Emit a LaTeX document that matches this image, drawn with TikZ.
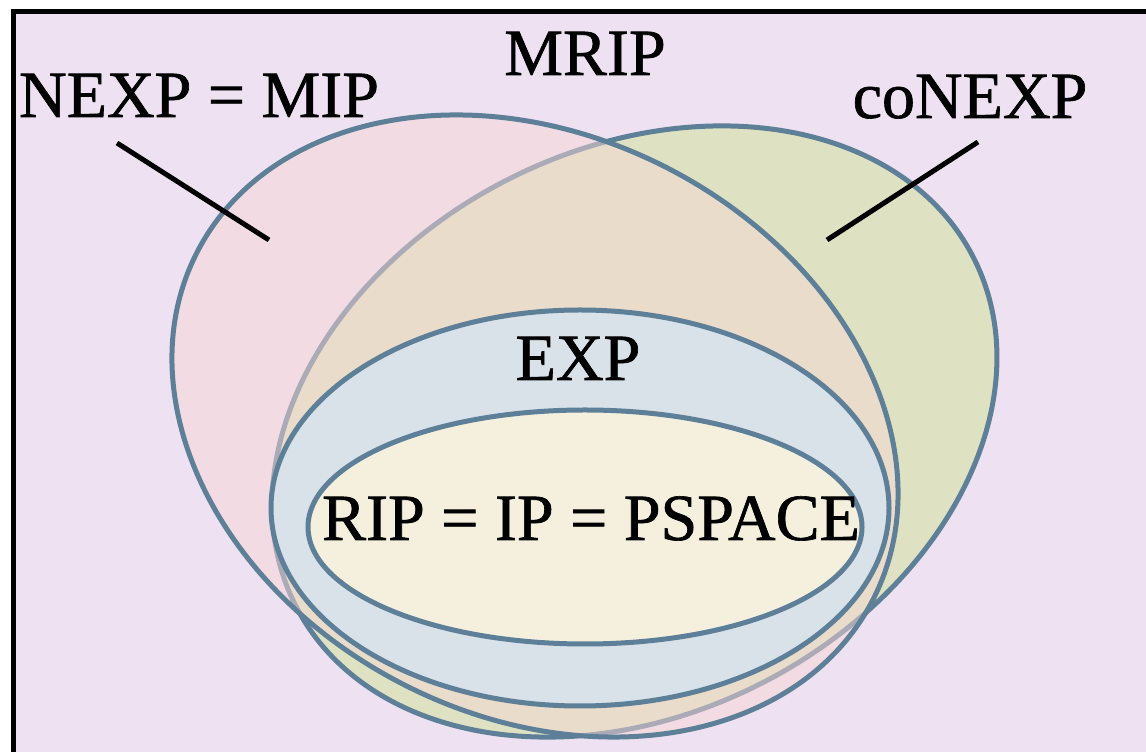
\documentclass[tikz,border=0pt]{standalone}
\usepackage{fontspec}
\setmainfont{Liberation Serif}
\newfontfamily\labelface{Liberation Serif}[FakeBold=1.0]
\definecolor{lav}{RGB}{237,225,242}
\definecolor{rim}{RGB}{94,127,152}
\definecolor{nexpfill}{RGB}{247,215,212}
\definecolor{conexpfill}{RGB}{222,226,194}
\definecolor{expfill}{RGB}{216,226,232}
\definecolor{ripfill}{RGB}{245,240,222}
\tikzset{
  classset/.style={draw=rim, line width=5pt},
  lbl/.style={inner sep=0pt, anchor=base, font=\labelface\fontsize{66}{72}\selectfont},
  pointer/.style={draw=black, line width=5pt},
}
\begin{document}
\begin{tikzpicture}[x=1pt,y=1pt]
  \useasboundingbox (0,0) rectangle (1146,752);
  \clip (0,0) rectangle (1146,752);
  \fill[white] (0,0) rectangle (1146,752);
  % framed background
  \draw[fill=lav, draw=black, line width=5pt] (13.5,-20) rectangle (1170,740.5);

  % coNEXP, then NEXP laid half-transparent over it
  \draw[classset, fill=conexpfill] (634.5,320.5) ellipse [x radius=381, y radius=282, rotate=27.35];
  \fill[nexpfill, fill opacity=0.5] (535,326) ellipse [x radius=380, y radius=290, rotate=-27.25];
  \draw[classset] (535,326) ellipse [x radius=380, y radius=290, rotate=-27.25];

  % EXP and the innermost class
  \draw[classset, fill=expfill] (580,244) ellipse [x radius=309, y radius=198];
  \draw[classset, fill=ripfill] (585,225) ellipse [x radius=277, y radius=117];

  % labels
  \node[lbl] (mrip) at (585,677) {MRIP};
  \node[lbl] (nexp) at (199,635) {NEXP = MIP};
  \node[lbl] (conexp) at (970,634) {coNEXP};
  \node[lbl] (exp) at (578,372) {EXP};
  \node[lbl] (rip) at (591,212) {RIP = IP = PSPACE};

  % pointer lines
  \coordinate (nexpA) at (117,609);
  \coordinate (nexpB) at (269,512);
  \coordinate (conexpA) at (978,610);
  \coordinate (conexpB) at (827,512);
  \draw[pointer] (nexpA) -- (nexpB);
  \draw[pointer] (conexpA) -- (conexpB);
\end{tikzpicture}
\end{document}
